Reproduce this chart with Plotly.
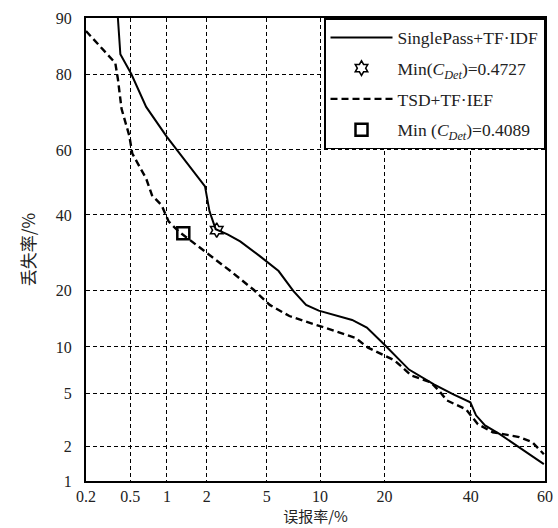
from statistics import NormalDist
import plotly.graph_objects as go

# ---- data (percent values) ----
sp_far = [0.39, 0.41, 0.51, 0.68, 1.0, 1.78, 1.94, 2.09, 2.31, 2.79, 3.39, 4.53, 5.89, 7.16,
          8.43, 9.85, 14.4, 16.8, 20.0, 25.0, 30.7, 35.5, 39.9, 41.4, 43.8, 47.8, 59.7]
sp_miss = [90.0, 84.1, 80.1, 72.2, 63.9, 51.2, 48.8, 41.1, 35.8, 34.3, 32.3, 28.3, 24.5, 19.9,
           17.0, 15.9, 14.2, 12.9, 10.3, 7.24, 5.78, 4.93, 4.33, 3.48, 2.92, 2.49, 1.41]

tsd_far = [0.2, 0.33, 0.37, 0.39, 0.42, 0.49, 0.52, 0.68, 0.76, 0.91, 1.03, 1.23, 1.73, 2.13,
           2.92, 4.16, 5.21, 6.80, 9.85, 11.6, 14.9, 17.0, 22.0, 25.5, 30.0, 32.3, 33.8, 38.8,
           41.9, 45.9, 53.1, 56.6, 59.7]
tsd_miss = [88.1, 83.7, 82.4, 79.0, 71.7, 64.2, 58.9, 51.2, 46.0, 42.9, 38.1, 35.2, 31.0, 28.3,
            24.5, 20.1, 17.0, 14.9, 13.2, 12.5, 11.3, 9.9, 8.27, 6.63, 5.96, 5.09, 4.48, 3.85,
            2.98, 2.58, 2.36, 2.15, 1.71]

sp_min = (2.35, 35.5)
tsd_min = (1.34, 34.6)

x_ticks = [0.2, 0.5, 1, 2, 5, 10, 20, 40, 60]
y_ticks = [1, 2, 5, 10, 20, 40, 60, 80, 90]
x_tick_labels = ["0.2", "0.5", "1", "2", "5", "10", "20", "40", "60"]
y_tick_labels = ["1", "2", "5", "10", "20", "40", "60", "80", "90"]

# normal-deviate (DET) scale
nd = NormalDist()
def probit(vals):
    return [nd.inv_cdf(v / 100.0) for v in vals]

SERIF = "Liberation Serif, Times New Roman, serif"
CJK = "Noto Sans CJK SC"

fig = go.Figure()
fig.add_trace(go.Scatter(x=probit(sp_far), y=probit(sp_miss), mode="lines",
                         line=dict(color="black", width=2), name="SinglePass+TF·IDF",
                         legendgroup="a"))
fig.add_trace(go.Scatter(x=probit([sp_min[0]]), y=probit([sp_min[1]]), mode="markers",
                         marker=dict(symbol="hexagram-open", size=11, color="black",
                                     line=dict(width=1.5, color="black")),
                         name="Min(<i>C</i><sub><i>Det</i></sub>)=0.4727", legendgroup="b"))
fig.add_trace(go.Scatter(x=probit(tsd_far), y=probit(tsd_miss), mode="lines",
                         line=dict(color="black", width=2.4, dash="7px,4px"),
                         name="TSD+TF·IEF", legendgroup="c"))
fig.add_trace(go.Scatter(x=probit([tsd_min[0]]), y=probit([tsd_min[1]]), mode="markers",
                         marker=dict(symbol="square-open", size=12, color="black",
                                     line=dict(width=2.5, color="black")),
                         name="Min (<i>C</i><sub><i>Det</i></sub>)=0.4089", legendgroup="d"))

axis_common = dict(showline=True, linecolor="black", linewidth=2, mirror=True,
                   showgrid=True, gridcolor="black", gridwidth=1.4, griddash="4px,3px",
                   zeroline=False, ticks="", ticklabeloverflow="allow",
                   tickfont=dict(family=SERIF, size=16, color="#222"))

fig.update_xaxes(range=probit([0.2, 60]), tickvals=probit(x_ticks), ticktext=x_tick_labels,
                 ticklabelstandoff=0,
                 title=dict(text="误报率/%", font=dict(family=CJK, size=15, color="#222"),
                            standoff=7),
                 **axis_common)
fig.update_yaxes(range=probit([1, 90]), tickvals=probit(y_ticks), ticktext=y_tick_labels,
                 ticklabelstandoff=9,
                 title=dict(text="丢失率/%", font=dict(family=CJK, size=17, color="#222"),
                            standoff=16),
                 **axis_common)

fig.update_layout(
    width=558, height=528,
    margin=dict(l=86, r=5, t=18, b=44),
    plot_bgcolor="white", paper_bgcolor="white",
    showlegend=True,
    legend=dict(x=1, y=1, xanchor="right", yanchor="top",
                bgcolor="white", bordercolor="black", borderwidth=1.5,
                font=dict(family=SERIF, size=17.5, color="#222"),
                traceorder="grouped", tracegroupgap=5, itemwidth=62),
)

fig.write_html("out.html", config={"displayModeBar": False},
               post_script="document.body.style.margin='0';document.body.style.padding='0';")
